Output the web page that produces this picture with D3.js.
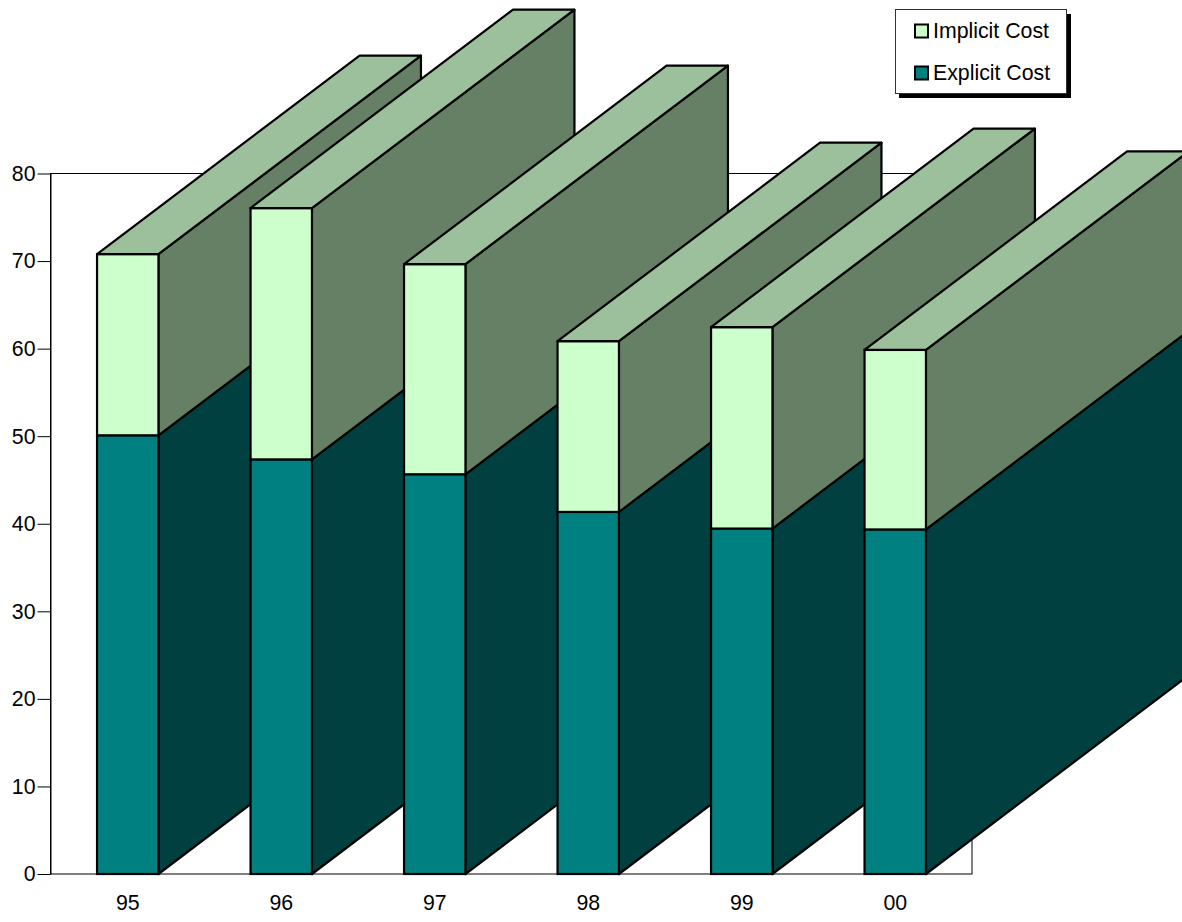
<!DOCTYPE html>
<html>
<head>
<meta charset="utf-8">
<script src="https://cdn.jsdelivr.net/npm/d3@7"></script>
<style>
  html, body { margin: 0; padding: 0; background: #fff; overflow: hidden; }
  svg { display: block; }
  text { font-family: "Liberation Sans", Arial, sans-serif; fill: #000; }
</style>
</head>
<body>
<svg id="chart" width="1182" height="922"></svg>
<script>
// Cost per year, stacked bottom to top
const years = ["95", "96", "97", "98", "99", "00"];
const explicitCost = [50.1, 47.35, 45.65, 41.35, 39.45, 39.35];
const implicitCost = [20.7, 28.7, 24.0, 19.5, 23.0, 20.5];
const valueTicks = [0, 10, 20, 30, 40, 50, 60, 70, 80];
const seriesNames = ["Explicit Cost", "Implicit Cost"];
const legendOrder = ["Implicit Cost", "Explicit Cost"];

const frontFill = { "Explicit Cost": "#008080", "Implicit Cost": "#CCFFCC" };
const sideFill = { "Explicit Cost": "#004040", "Implicit Cost": "#668066" };
const topFill = "#9CC09C";

const plot = { left: 50.5, right: 972, top: 173.5, bottom: 874 };
const depth = { x: 262.5, y: -198.5 };
const labelFont = 21.3;

const svg = d3.select("#chart");

const x = d3.scaleBand()
  .domain(years)
  .range([51, plot.right])
  .paddingInner(0.6)
  .paddingOuter(0.3);

const y = d3.scaleLinear()
  .domain([0, 80])
  .range([plot.bottom, plot.top]);

const rows = years.map((year, i) => ({
  year,
  "Explicit Cost": explicitCost[i],
  "Implicit Cost": implicitCost[i]
}));
const stacked = d3.stack().keys(seriesNames)(rows);

// Plot frame
svg.append("rect")
  .attr("x", plot.left).attr("y", plot.top)
  .attr("width", plot.right - plot.left).attr("height", plot.bottom - plot.top)
  .attr("fill", "#fff").attr("stroke", "#000").attr("stroke-width", 1);

// Value axis
const yAxis = d3.axisLeft(y)
  .tickValues(valueTicks)
  .tickSize(13)
  .tickPadding(2)
  .tickSizeOuter(0);
const yAxisG = svg.append("g")
  .attr("transform", `translate(${plot.left},0)`)
  .call(yAxis);
yAxisG.select(".domain").attr("stroke", "#000");
yAxisG.selectAll("text")
  .attr("font-size", labelFont)
  .style("font-family", '"Liberation Sans", Arial, sans-serif');

// Category labels
const xAxis = d3.axisBottom(x).tickSize(0).tickPadding(21);
const xAxisG = svg.append("g")
  .attr("transform", `translate(0,${plot.bottom})`)
  .call(xAxis);
xAxisG.select(".domain").remove();
xAxisG.selectAll("text")
  .attr("font-size", labelFont)
  .style("font-family", '"Liberation Sans", Arial, sans-serif');

// Bars, painted left to right so nearer ones overlap the previous one's depth
const line = d3.line();
const quad = (x0, y0, x1, y1) => line([
  [x0, y0], [x1, y1], [x1 + depth.x, y1 + depth.y], [x0 + depth.x, y0 + depth.y]
]) + "Z";

years.forEach((year, i) => {
  const g = svg.append("g").attr("class", "bar");
  const x0 = x(year);
  const x1 = x0 + x.bandwidth();

  stacked.forEach(layer => {
    const yBase = y(layer[i][0]);
    const yTop = y(layer[i][1]);

    // Right-hand side face
    g.append("path")
      .attr("d", quad(x1, yBase, x1, yTop))
      .attr("fill", sideFill[layer.key])
      .attr("stroke", "#000").attr("stroke-width", 2.2).attr("stroke-linejoin", "round");

    // Front face
    g.append("rect")
      .attr("x", x0).attr("y", yTop)
      .attr("width", x1 - x0).attr("height", yBase - yTop)
      .attr("fill", frontFill[layer.key])
      .attr("stroke", "#000").attr("stroke-width", 2.2);
  });

  // Top face of the whole stack
  const yStackTop = y(stacked[stacked.length - 1][i][1]);
  g.append("path")
    .attr("d", quad(x0, yStackTop, x1, yStackTop))
    .attr("fill", topFill)
    .attr("stroke", "#000").attr("stroke-width", 2.2).attr("stroke-linejoin", "round");
});

// Legend with drop shadow
const legend = svg.append("g").attr("class", "legend");
legend.append("rect")
  .attr("x", 899).attr("y", 14).attr("width", 172).attr("height", 84)
  .attr("fill", "#000");
legend.append("rect")
  .attr("x", 895.5).attr("y", 9.5).attr("width", 171).attr("height", 84)
  .attr("fill", "#fff").attr("stroke", "#333").attr("stroke-width", 1);

const legendRow = d3.scalePoint().domain(legendOrder).range([31, 73]);
legendOrder.forEach(name => {
  const cy = legendRow(name);
  legend.append("rect")
    .attr("x", 915).attr("y", cy - 6.5).attr("width", 13).attr("height", 13)
    .attr("fill", frontFill[name])
    .attr("stroke", "#000").attr("stroke-width", 2);
  legend.append("text")
    .attr("x", 933).attr("y", cy + 7)
    .attr("font-size", labelFont)
    .text(name);
});
</script>
</body>
</html>
